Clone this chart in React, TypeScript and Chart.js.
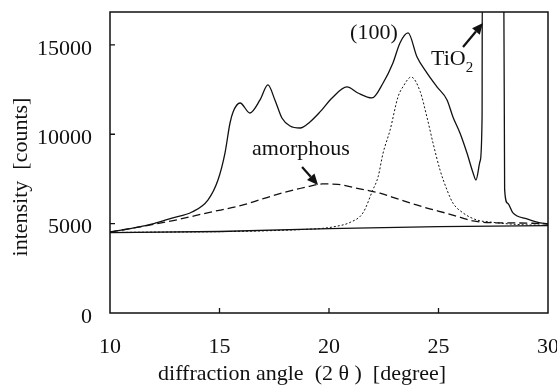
import { useEffect, useRef } from "react";
import { Chart, registerables } from "chart.js";

Chart.register(...registerables);

const FONT = '"Liberation Serif", "Times New Roman", serif';
const INK = "#111";

// axis ticks
const xTickValues = [10, 15, 20, 25, 30];
const yTickValues = [0, 5000, 10000, 15000];
const xTitle = "diffraction angle  (2 θ )  [degree]";
const yTitle = "intensity  [counts]";

// measured XRD pattern (solid)
const measuredAngles = [
  10.0, 10.6, 11.28, 12.0, 12.83, 13.74, 14.47, 14.93, 15.25, 15.48, 15.62, 15.94,
  16.39, 16.85, 17.21, 17.53, 17.85, 18.22, 18.68, 19.13, 19.59, 20.14, 20.82,
  21.32, 21.96, 22.47, 22.92, 23.24, 23.61, 24.02, 24.47, 24.93, 25.39, 25.66,
  25.98, 26.3, 26.58, 26.71, 26.9, 26.99, 27.0, 27.98, 28.02, 28.15, 28.4, 29.04,
  29.5, 30.0,
];
const measuredCounts = [
  4530, 4650, 4810, 5000, 5310, 5650, 6320, 7440, 8950, 10630, 11250, 11750,
  11190, 11920, 12760, 11920, 10910, 10460, 10350, 10690, 11250, 12030, 12650,
  12310, 12030, 12870, 13990, 15110, 15670, 14320, 13430, 12650, 11920, 10970,
  10070, 8950, 7830, 7440, 8500, 11000, 18500, 18500, 6900, 6150, 5600, 5260,
  5090, 4980,
];

// amorphous component (dashed)
const amorphousAngles = [
  10, 11.5, 13, 14.5, 16, 17, 18, 19, 19.7, 20.4, 21.2, 22.33, 23.1, 23.84, 24.6,
  25.39, 26.0, 26.58, 27.2, 28.3, 29.3, 30,
];
const amorphousCounts = [
  4530, 4850, 5200, 5620, 6020, 6400, 6760, 7060, 7220, 7200, 7000, 6700, 6400,
  6100, 5830, 5570, 5350, 5150, 5060, 5040, 5020, 4980,
];

// (100) crystalline peak (dotted)
const peakAngles = [
  10, 19.3, 20.2, 21.0, 21.55, 22.0, 22.24, 22.47, 22.79, 23.15, 23.4, 23.75, 24.16,
  24.47, 24.75, 25.07, 25.39, 25.66, 26.12, 26.76, 27.35, 28.5, 30,
];
const peakCounts = [
  4500, 4700, 4820, 5090, 5600, 6880, 7610, 8950, 10240, 12085, 12700, 13200, 12400,
  10970, 9510, 8000, 6880, 6150, 5600, 5200, 5090, 4960, 4900,
];

// background line (solid)
const backgroundAngles = [10, 15, 20, 25, 30];
const backgroundCounts = [4500, 4560, 4720, 4830, 4890];

// annotation anchors (data coordinates)
const label100 = { text: "(100)", x: 22.05, y: 15666 };
const labelAmorphous = { text: "amorphous", x: 18.72, y: 9176 };
const labelTiO2 = { text: "TiO", sub: "2", x: 24.66, y: 13876 };
const arrowAmorphous = { x0: 18.77, y0: 8169, x1: 19.5, y1: 7162 };
const arrowTiO2 = { x0: 26.12, y0: 14883, x1: 27.03, y1: 16226 };

const toPoints = (xs: number[], ys: number[]) => xs.map((x, i) => ({ x, y: ys[i] }));

function drawArrow(ctx: CanvasRenderingContext2D, x0: number, y0: number, x1: number, y1: number) {
  const ang = Math.atan2(y1 - y0, x1 - x0);
  const head = 11;
  const hw = 5;
  const bx = x1 - head * Math.cos(ang);
  const by = y1 - head * Math.sin(ang);
  ctx.beginPath();
  ctx.lineWidth = 2.2;
  ctx.moveTo(x0, y0);
  ctx.lineTo(bx, by);
  ctx.stroke();
  ctx.beginPath();
  ctx.moveTo(x1, y1);
  ctx.lineTo(bx + hw * Math.sin(ang), by - hw * Math.cos(ang));
  ctx.lineTo(bx - hw * Math.sin(ang), by + hw * Math.cos(ang));
  ctx.closePath();
  ctx.fill();
}

const overlay = {
  id: "overlay",
  afterDatasetsDraw(chart: any) {
    const { ctx, chartArea: a, scales } = chart;
    const xs = scales.x;
    const ys = scales.y;
    ctx.save();
    ctx.strokeStyle = INK;
    ctx.fillStyle = INK;
    ctx.lineWidth = 1.5;
    ctx.strokeRect(a.left, a.top, a.right - a.left, a.bottom - a.top);
    ctx.lineWidth = 1.3;
    ctx.beginPath();
    xTickValues.slice(1, -1).forEach((v) => {
      const px = xs.getPixelForValue(v);
      ctx.moveTo(px, a.bottom);
      ctx.lineTo(px, a.bottom - 5);
    });
    yTickValues.slice(1).forEach((v) => {
      const py = ys.getPixelForValue(v);
      ctx.moveTo(a.left, py);
      ctx.lineTo(a.left + 5, py);
    });
    ctx.stroke();

    // axis titles
    ctx.font = `22px ${FONT}`;
    ctx.textAlign = "center";
    ctx.textBaseline = "middle";
    ctx.fillText(xTitle, xs.getPixelForValue(18.77), a.bottom + 61);
    ctx.save();
    ctx.translate(21, a.top + 165);
    ctx.rotate(-Math.PI / 2);
    ctx.fillText(yTitle, 0, 0);
    ctx.restore();

    // annotations
    ctx.textAlign = "center";
    ctx.textBaseline = "middle";
    ctx.fillText(label100.text, xs.getPixelForValue(label100.x), ys.getPixelForValue(label100.y));
    ctx.fillText(labelAmorphous.text, xs.getPixelForValue(labelAmorphous.x), ys.getPixelForValue(labelAmorphous.y));
    ctx.textAlign = "left";
    ctx.textBaseline = "alphabetic";
    const tx = xs.getPixelForValue(labelTiO2.x);
    const ty = ys.getPixelForValue(labelTiO2.y);
    ctx.fillText(labelTiO2.text, tx, ty);
    const w = ctx.measureText(labelTiO2.text).width;
    ctx.font = `15px ${FONT}`;
    ctx.fillText(labelTiO2.sub, tx + w, ty + 7);

    drawArrow(
      ctx,
      xs.getPixelForValue(arrowAmorphous.x0),
      ys.getPixelForValue(arrowAmorphous.y0),
      xs.getPixelForValue(arrowAmorphous.x1),
      ys.getPixelForValue(arrowAmorphous.y1)
    );
    drawArrow(
      ctx,
      xs.getPixelForValue(arrowTiO2.x0),
      ys.getPixelForValue(arrowTiO2.y0),
      xs.getPixelForValue(arrowTiO2.x1),
      ys.getPixelForValue(arrowTiO2.y1)
    );
    ctx.restore();
  },
};

export default function App() {
  const ref = useRef<HTMLCanvasElement | null>(null);
  useEffect(() => {
    document.body.style.margin = "0";
    const canvas = ref.current;
    if (!canvas) return;
    const base = {
      borderColor: INK,
      pointRadius: 0,
      fill: false,
      cubicInterpolationMode: "monotone" as const,
    };
    const chart = new Chart(canvas, {
      type: "line",
      data: {
        datasets: [
          { ...base, data: toPoints(backgroundAngles, backgroundCounts), borderWidth: 1.3, cubicInterpolationMode: "default", tension: 0 },
          { ...base, data: toPoints(amorphousAngles, amorphousCounts), borderWidth: 1.3, borderDash: [8, 4] },
          { ...base, data: toPoints(peakAngles, peakCounts), borderWidth: 1, borderDash: [2, 2] },
          { ...base, data: toPoints(measuredAngles, measuredCounts), borderWidth: 1.3 },
        ] as any,
      },
      options: {
        animation: false,
        responsive: false,
        events: [],
        layout: { padding: { left: 0, top: 12, right: 9, bottom: 0 } },
        plugins: { legend: { display: false }, tooltip: { enabled: false } },
        scales: {
          x: {
            type: "linear",
            min: 10,
            max: 30,
            grid: { display: false },
            border: { display: false },
            afterBuildTicks: (s: any) => {
              s.ticks = xTickValues.map((value) => ({ value }));
            },
            afterFit: (s: any) => {
              s.height = 75;
              s.paddingLeft = 0;
              s.paddingRight = 0;
              s.paddingTop = 0;
              s.paddingBottom = 0;
            },
            ticks: {
              color: INK,
              font: { family: FONT, size: 22 },
              padding: 13,
              maxRotation: 0,
              autoSkip: false,
              callback: (v: any) => String(v),
            },
          },
          y: {
            type: "linear",
            min: 0,
            max: 16840,
            grid: { display: false },
            border: { display: false },
            afterBuildTicks: (s: any) => {
              s.ticks = yTickValues.map((value) => ({ value }));
            },
            afterFit: (s: any) => {
              s.width = 110;
              s.paddingLeft = 0;
              s.paddingRight = 0;
              s.paddingTop = 0;
              s.paddingBottom = 0;
            },
            ticks: {
              color: INK,
              font: { family: FONT, size: 22 },
              padding: 10,
              labelOffset: 4,
              autoSkip: false,
              callback: (v: any) => String(v),
            },
          },
        },
      },
      plugins: [overlay],
    });
    return () => chart.destroy();
  }, []);
  return (
    <div style={{ width: 557, height: 388 }}>
      <canvas ref={ref} width={557} height={388} style={{ display: "block" }} />
    </div>
  );
}
